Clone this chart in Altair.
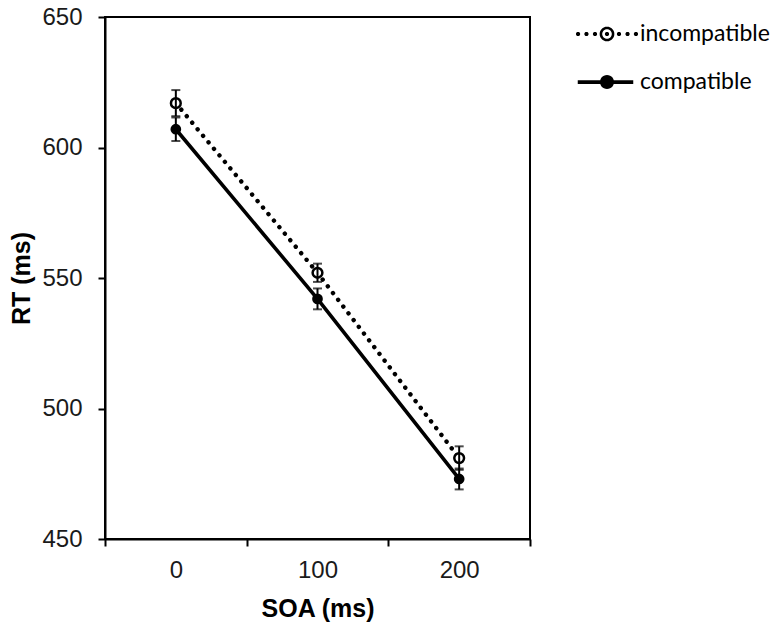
import math
import altair as alt
import pandas as pd

# ---- data ----
soa = ["0", "100", "200"]
conditions = ["incompatible", "compatible"]
rt_incompatible = [617, 552, 481]
se_incompatible = [5, 3.5, 4.5]
rt_compatible = [607, 542, 473]
se_compatible = [4.5, 4, 4]
y_ticks = [450, 500, 550, 600, 650]

rows = []
for cond, rts, ses in [("incompatible", rt_incompatible, se_incompatible),
                       ("compatible", rt_compatible, se_compatible)]:
    for s, r, e in zip(soa, rts, ses):
        rows.append({"soa": s, "condition": cond, "rt": r, "lo": r - e, "hi": r + e})
df = pd.DataFrame(rows)


# ---- legend symbol paths (unit = 15 px with symbolSize 900) ----
def circ(cx, r, cw=False, n=28):
    pts = [(cx + r * math.cos(2 * math.pi * k / n), r * math.sin(2 * math.pi * k / n)) for k in range(n)]
    if cw:
        pts = pts[::-1]
    return "M" + "L".join(f"{x:.3f},{y:.3f}" for x, y in pts) + "Z"


dot_r = 0.14
incomp_path = "".join(
    [circ(x, dot_r) for x in (-1.93, -1.37, -0.8, 0.8, 1.37, 1.93)]
    + [circ(0, 0.49), circ(0, 0.32, cw=True), circ(0, dot_r)]
)
comp_path = "M-1.95,-0.125L1.75,-0.125L1.75,0.125L-1.95,0.125Z" + circ(0, 0.47)

x_enc = alt.X(
    "soa:N",
    sort=soa,
    scale=alt.Scale(paddingInner=0, paddingOuter=0),
    axis=alt.Axis(
        title="SOA (ms)",
        labelAngle=0,
        tickBand="extent",
        labelPadding=12,
        titlePadding=14,
    ),
)
y_enc = alt.Y(
    "rt:Q",
    scale=alt.Scale(domain=[450, 650], nice=False, zero=False),
    axis=alt.Axis(title="RT (ms)", values=y_ticks, labelPadding=16, titlePadding=7, grid=False),
)

base = alt.Chart(df)
inc = base.transform_filter(alt.datum.condition == "incompatible")
com = base.transform_filter(alt.datum.condition == "compatible")

# legend carrier: tiny marks hidden under the real markers
legend_layer = base.mark_point(filled=True, color="black", size=1).encode(
    x=x_enc,
    y=y_enc,
    shape=alt.Shape(
        "condition:N",
        scale=alt.Scale(domain=conditions, range=[incomp_path, comp_path]),
        legend=alt.Legend(
            title=None,
            orient="none",
            legendX=487,
            legendY=2,
            symbolSize=900,
            symbolOpacity=1,
            symbolStrokeWidth=0,
            symbolFillColor="black",
            labelFont="Lato",
            labelFontSize=23,
            labelColor="black",
            labelOffset=18,
            rowPadding=21,
            labelLimit=300,
        ),
    ),
)

line_inc = inc.mark_line(color="black", strokeCap="round", strokeWidth=4.4, strokeDash=[0.1, 8.4]).encode(
    x=x_enc, y=y_enc
)
line_com = com.mark_line(color="black", strokeWidth=3.6).encode(x=x_enc, y=y_enc)

pt_inc = inc.mark_point(shape="circle", color="black", fill="white", strokeWidth=2.5, size=95, opacity=1).encode(
    x=x_enc, y=y_enc
)
pt_com = com.mark_point(shape="circle", color="black", filled=True, size=115, opacity=1).encode(
    x=x_enc, y=y_enc
)

err_rule = base.mark_rule(color="black", strokeWidth=2).encode(
    x=x_enc, y=alt.Y("lo:Q"), y2="hi:Q"
)
cap_lo = base.mark_tick(color="black", thickness=2, size=9, orient="horizontal").encode(x=x_enc, y=alt.Y("lo:Q"))
cap_hi = base.mark_tick(color="black", thickness=2, size=9, orient="horizontal").encode(x=x_enc, y=alt.Y("hi:Q"))

chart = (
    alt.layer(legend_layer, line_inc, line_com, pt_inc, pt_com, err_rule, cap_lo, cap_hi)
    .properties(
        width=425,
        height=522,
        autosize=alt.AutoSizeParams(type="none"),
        padding={"left": 97, "top": 9, "right": 246, "bottom": 85},
    )
    .configure_view(stroke="black", strokeWidth=2)
    .configure_axis(
        domainColor="black",
        domainWidth=2,
        tickColor="black",
        tickWidth=2,
        tickSize=7,
        labelFont="Liberation Sans",
        labelFontSize=24,
        labelColor="#1a1a1a",
        titleFont="Liberation Sans",
        titleFontSize=25,
        titleFontWeight="bold",
        titleColor="black",
    )
)

chart.save("out.html", embed_options={"renderer": "svg", "actions": False})
